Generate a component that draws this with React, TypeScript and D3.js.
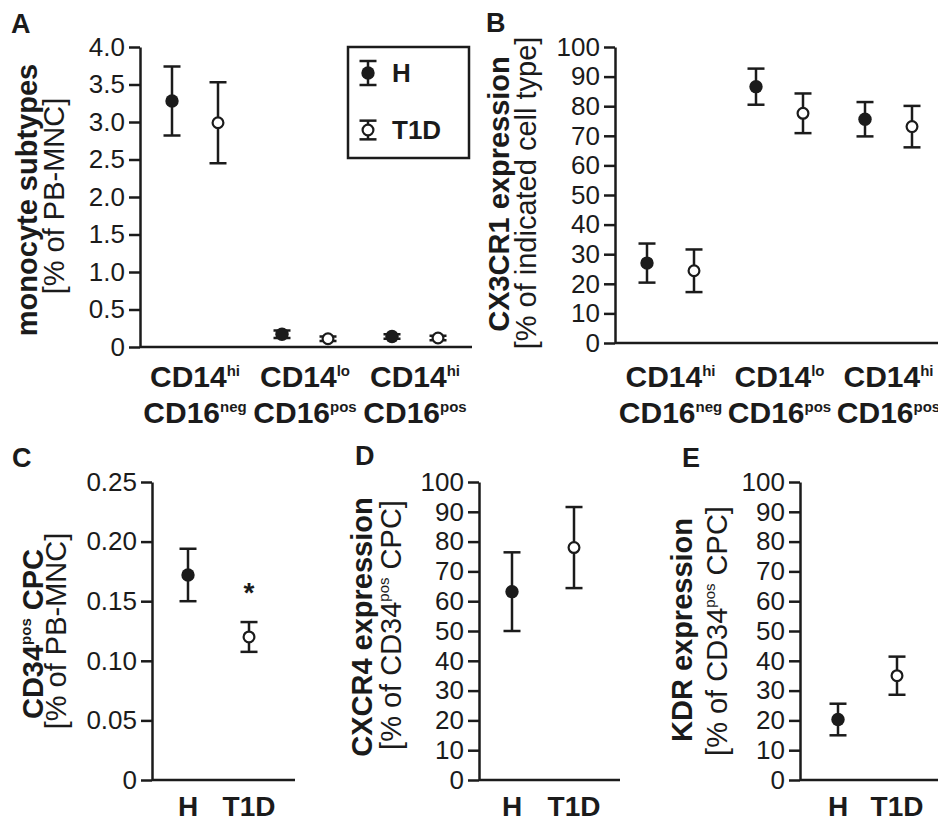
import React, { useEffect, useRef } from "react"
import * as d3 from "d3"

// groups and categories
const groups = ["H", "T1D"]
const subsetKeys = ["hi-neg", "lo-pos", "hi-pos"]
const subsetTop = [["CD14", "hi"], ["CD14", "lo"], ["CD14", "hi"]]
const subsetBottom = [["CD16", "neg"], ["CD16", "pos"], ["CD16", "pos"]]

// A: monocyte subtypes [% of PB-MNC]
const monoH = [3.28, 0.17, 0.14]
const monoHErr = [0.46, 0.05, 0.03]
const monoT1D = [2.99, 0.11, 0.12]
const monoT1DErr = [0.54, 0.03, 0.03]
const monoTicks = [0, 0.5, 1, 1.5, 2, 2.5, 3, 3.5, 4]

// B: CX3CR1 expression [% of indicated cell type]
const cx3H = [27, 86.6, 75.6]
const cx3HErr = [6.6, 6.1, 5.8]
const cx3T1D = [24.4, 77.6, 73.1]
const cx3T1DErr = [7.2, 6.7, 7]
const pctTicks = [0, 10, 20, 30, 40, 50, 60, 70, 80, 90, 100]

// C: CD34pos CPC [% of PB-MNC]
const cd34 = [0.172, 0.12]
const cd34Err = [0.022, 0.0125]
const cd34Ticks = [0, 0.05, 0.1, 0.15, 0.2, 0.25]

// D: CXCR4 expression
const cxcr4 = [63.2, 78]
const cxcr4Err = [13.2, 13.6]

// E: KDR expression
const kdr = [20.3, 35]
const kdrErr = [5.3, 6.4]

const INK = "#1b1b1b"
const FONT = "'Liberation Sans', Arial, Helvetica, sans-serif"
const SW = 2.5

function drawYAxis(svg, y, x0, ticks, fmt) {
    const g = svg.append("g")
        .attr("transform", `translate(${x0},0)`)
        .call(d3.axisLeft(y).tickValues(ticks).tickFormat(fmt).tickSize(11).tickSizeOuter(0).tickPadding(4))
    g.attr("font-family", FONT).attr("font-size", 26)
    g.select(".domain").attr("stroke", INK).attr("stroke-width", SW)
    g.selectAll(".tick line").attr("stroke", INK).attr("stroke-width", SW)
    g.selectAll(".tick text").attr("fill", INK)
}

function drawPoint(svg, cx, y, v, e, filled, r = 5.4) {
    const cap = 8.5
    svg.append("line")
        .attr("x1", cx).attr("x2", cx)
        .attr("y1", y(v - e)).attr("y2", y(v + e))
        .attr("stroke", INK).attr("stroke-width", SW)
    ;[v - e, v + e].forEach(b => {
        svg.append("line")
            .attr("x1", cx - cap).attr("x2", cx + cap)
            .attr("y1", y(b)).attr("y2", y(b))
            .attr("stroke", INK).attr("stroke-width", SW)
    })
    svg.append("circle")
        .attr("cx", cx).attr("cy", y(v))
        .attr("r", filled ? r + 1.3 : r)
        .attr("fill", filled ? INK : "white")
        .attr("stroke", INK)
        .attr("stroke-width", filled ? 0 : 2.2)
}

function panelLetter(svg, x, y, t) {
    svg.append("text").attr("x", x).attr("y", y)
        .attr("font-family", FONT).attr("font-weight", "bold").attr("font-size", 27)
        .attr("fill", INK).text(t)
}

// rotated title: parts are [text, isSup]
function yTitle(svg, x, y, parts, bold) {
    const t = svg.append("text")
        .attr("transform", `translate(${x},${y}) rotate(-90)`)
        .attr("text-anchor", "middle")
        .attr("font-family", FONT)
        .attr("font-weight", bold ? "bold" : "normal")
        .attr("font-size", 29)
        .attr("fill", INK)
    let shifted = false
    parts.forEach(([s, sup]) => {
        const ts = t.append("tspan").text(s)
        if (sup) {
            ts.attr("font-size", 15).attr("dy", -12)
            shifted = true
        } else if (shifted) {
            ts.attr("dy", 12)
            shifted = false
        }
    })
}

function catLabel(svg, x, y, main, sup) {
    const t = svg.append("text")
        .attr("x", x).attr("y", y)
        .attr("text-anchor", "middle")
        .attr("font-family", FONT).attr("font-weight", "bold")
        .attr("font-size", 30).attr("fill", INK)
    t.append("tspan").text(main)
    t.append("tspan").attr("font-size", 15).attr("dy", -11.5).text(sup)
}

function xAxisLine(svg, x0, x1, yy) {
    svg.append("line")
        .attr("x1", x0).attr("x2", x1).attr("y1", yy).attr("y2", yy)
        .attr("stroke", INK).attr("stroke-width", SW)
}

const App = () => {
    const ref = useRef(null)

    useEffect(() => {
        const svg = d3.select(ref.current)
        svg.selectAll("*").remove()

        // ---------- A ----------
        const yA = d3.scaleLinear().domain([0, 4]).range([347, 47])
        const xA = d3.scaleBand().domain(subsetKeys).range([140, 470])
        const offA = d3.scalePoint().domain(groups).range([-23, 23])
        drawYAxis(svg, yA, 140, monoTicks, d => (d === 0 ? "0" : d3.format(".1f")(d)))
        xAxisLine(svg, 140, 472, yA(0))
        subsetKeys.forEach((k, i) => {
            const c = xA(k) + xA.bandwidth() / 2
            drawPoint(svg, c + offA("H"), yA, monoH[i], monoHErr[i], true)
            drawPoint(svg, c + offA("T1D"), yA, monoT1D[i], monoT1DErr[i], false)
            catLabel(svg, c, 387, subsetTop[i][0], subsetTop[i][1])
            catLabel(svg, c, 423, subsetBottom[i][0], subsetBottom[i][1])
        })
        panelLetter(svg, 11, 33, "A")
        yTitle(svg, 37, 200, [["monocyte subtypes", false]], true)
        yTitle(svg, 64, 196, [["[% of PB-MNC]", false]], false)

        // legend
        svg.append("rect").attr("x", 348).attr("y", 47).attr("width", 121).attr("height", 111)
            .attr("fill", "white").attr("stroke", INK).attr("stroke-width", SW)
        const yLegH = d3.scaleLinear().domain([0, 1]).range([73, 61])
        const yLegT = d3.scaleLinear().domain([0, 1]).range([130, 119])
        drawPoint(svg, 368, yLegH, 0, 1, true)
        drawPoint(svg, 368, yLegT, 0, 0.85, false)
        ;[["H", 82], ["T1D", 139]].forEach(([t, yy]) => {
            svg.append("text").attr("x", 392).attr("y", yy)
                .attr("font-family", FONT).attr("font-weight", "bold").attr("font-size", 26)
                .attr("fill", INK).text(t)
        })

        // ---------- B ----------
        const yB = d3.scaleLinear().domain([0, 100]).range([343, 47])
        const xB = d3.scaleBand().domain(subsetKeys).range([616, 943])
        const offB = d3.scalePoint().domain(groups).range([-23.5, 23.5])
        drawYAxis(svg, yB, 615, pctTicks, d3.format("d"))
        xAxisLine(svg, 615, 938, yB(0))
        subsetKeys.forEach((k, i) => {
            const c = xB(k) + xB.bandwidth() / 2
            drawPoint(svg, c + offB("H"), yB, cx3H[i], cx3HErr[i], true)
            drawPoint(svg, c + offB("T1D"), yB, cx3T1D[i], cx3T1DErr[i], false)
            catLabel(svg, c, 387, subsetTop[i][0], subsetTop[i][1])
            catLabel(svg, c, 423, subsetBottom[i][0], subsetBottom[i][1])
        })
        panelLetter(svg, 486, 32, "B")
        yTitle(svg, 509, 194, [["CX3CR1 expression", false]], true)
        yTitle(svg, 536, 193, [["[% of indicated cell type]", false]], false)

        // ---------- C, D, E ----------
        const lower = [
            { letter: "C", lx: 12, ly: 467, axisX: 152, endX: 295, hx: 188, tx: 249,
              max: 0.25, ticks: cd34Ticks, fmt: d => (d === 0 ? "0" : d3.format(".2f")(d)),
              vals: cd34, errs: cd34Err,
              bold: [["CD34", false], ["pos", true], [" CPC", false]], bx: 43, by: 634,
              reg: [["[% of PB-MNC]", false]], rx: 66, ry: 631 },
            { letter: "D", lx: 355, ly: 465, axisX: 479, endX: 620, hx: 512, tx: 574,
              max: 100, ticks: pctTicks, fmt: d3.format("d"),
              vals: cxcr4, errs: cxcr4Err,
              bold: [["CXCR4 expression", false]], bx: 372, by: 627,
              reg: [["[% of CD34", false], ["pos", true], [" CPC]", false]], rx: 401, ry: 625 },
            { letter: "E", lx: 682, ly: 467, axisX: 800, endX: 938, hx: 838, tx: 897,
              max: 100, ticks: pctTicks, fmt: d3.format("d"),
              vals: kdr, errs: kdrErr,
              bold: [["KDR expression", false]], bx: 692, by: 630,
              reg: [["[% of CD34", false], ["pos", true], [" CPC]", false]], rx: 727, ry: 631 },
        ]
        lower.forEach(p => {
            const y = d3.scaleLinear().domain([0, p.max]).range([780, 482])
            const x = d3.scalePoint().domain(groups).range([p.hx, p.tx])
            drawYAxis(svg, y, p.axisX, p.ticks, p.fmt)
            xAxisLine(svg, p.axisX, p.endX, y(0))
            groups.forEach((gname, i) => {
                drawPoint(svg, x(gname), y, p.vals[i], p.errs[i], i === 0)
                svg.append("text").attr("x", x(gname)).attr("y", 816)
                    .attr("text-anchor", "middle")
                    .attr("font-family", FONT).attr("font-weight", "bold").attr("font-size", 28)
                    .attr("fill", INK).text(gname)
            })
            panelLetter(svg, p.lx, p.ly, p.letter)
            yTitle(svg, p.bx, p.by, p.bold, true)
            yTitle(svg, p.rx, p.ry, p.reg, false)
            if (p.letter === "C") {
                svg.append("text").attr("x", x("T1D")).attr("y", 602)
                    .attr("text-anchor", "middle")
                    .attr("font-family", FONT).attr("font-weight", "bold").attr("font-size", 28)
                    .attr("fill", INK).text("*")
            }
        })
    }, [])

    return (
        <svg
            ref={ref}
            width={938}
            height={822}
            style={{ position: "absolute", left: 0, top: 0, background: "white" }}
        />
    )
}

export default App
